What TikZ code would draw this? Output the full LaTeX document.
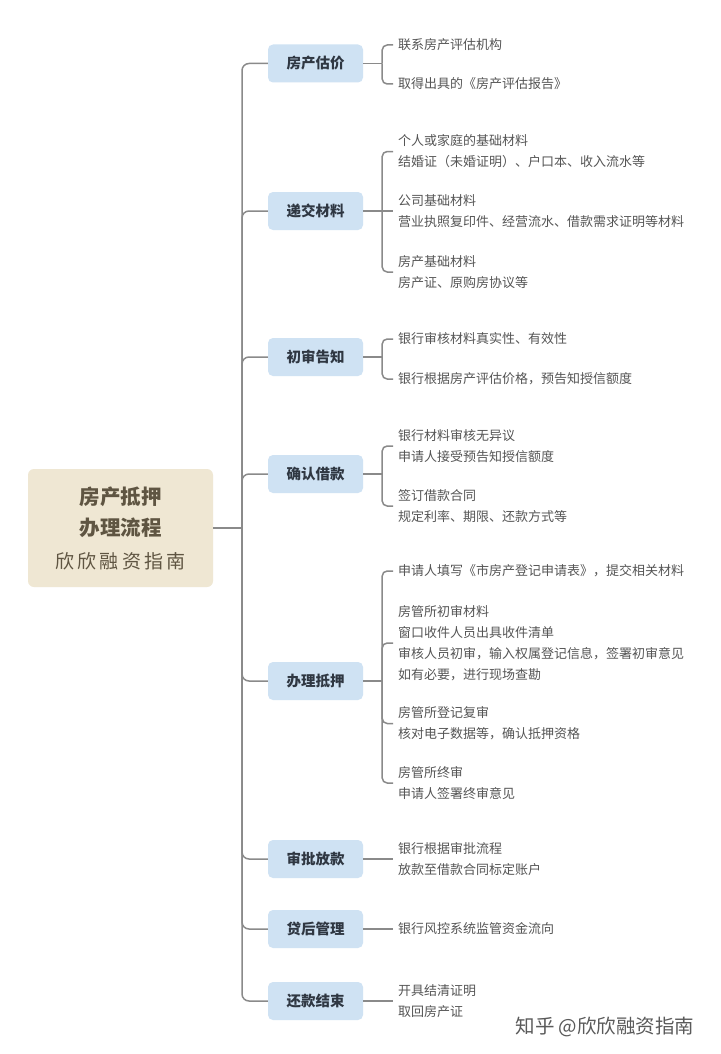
\documentclass[tikz,border=0pt]{standalone}
\usepackage{fontspec}
\setmainfont{Noto Sans CJK SC}
\usetikzlibrary{calc}
\definecolor{linec}{HTML}{8A8A8A}
\definecolor{catfill}{HTML}{CFE2F3}
\definecolor{cattext}{HTML}{2F3742}
\definecolor{rootfill}{HTML}{EFE7D3}
\definecolor{roottext}{HTML}{5F5542}
\definecolor{leaftext}{HTML}{555555}
\definecolor{marktext}{HTML}{5A5A5A}
\tikzset{
  conn/.style={draw=linec, line width=1.5pt},
  spinebend/.style={conn, rounded corners=7pt},
  bracketbend/.style={conn, rounded corners=5pt},
  cat/.style={fill=catfill, rounded corners=5pt, minimum width=95pt, minimum height=38pt,
    inner sep=0pt, text=cattext, font=\fontsize{14.5}{17}\selectfont\bfseries},
  leaf/.style={anchor=west, align=left, inner xsep=5pt, inner ysep=0pt, text=leaftext,
    font=\fontsize{13}{21}\selectfont},
  rootbox/.style={fill=rootfill, rounded corners=6pt, minimum width=185pt, minimum height=118pt,
    inner sep=0pt, align=center, text=roottext, font=\fontsize{20.5}{31}\selectfont},
  wmark/.style={text=marktext, font=\fontsize{19.5}{22}\selectfont}
}
\begin{document}
\begin{tikzpicture}[x=1pt,y=-1pt]
\useasboundingbox (0,0) rectangle (720,1054);
\fill[white] (0,0) rectangle (720,1054);

% root
\node[rootbox] (r) at (120.5,528) {\textbf{房产抵押}\\\textbf{办理流程}\\[2pt]{\fontsize{19}{31}\selectfont 欣\,欣\,融\,资\,指\,南}};
\coordinate (s) at (242,528);
\draw[conn] (r.east) -- (s);

% categories
\node[cat] (c1) at (315.5,63.5) {房产估价};
\node[cat] (c2) at (315.5,211) {递交材料};
\node[cat] (c3) at (315.5,357) {初审告知};
\node[cat] (c4) at (315.5,474) {确认借款};
\node[cat] (c5) at (315.5,681) {办理抵押};
\node[cat] (c6) at (315.5,859) {审批放款};
\node[cat] (c7) at (315.5,929) {贷后管理};
\node[cat] (c8) at (315.5,1001) {还款结束};

\foreach \c in {c1,c2,c3,c4,c5,c6,c7,c8}
  \draw[spinebend] (s) |- (\c.west);

% leaves of c1
\node[leaf] (l11) at (393,45) {联系房产评估机构};
\node[leaf] (l12) at (393,84) {取得出具的《房产评估报告》};
\coordinate (j1) at ([xshift=19pt]c1.east);
\draw[conn] (c1.east) -- (j1);
\draw[bracketbend] (j1) |- (l11.west);
\draw[bracketbend] (j1) |- (l12.west);

% leaves of c2
\node[leaf] (l21) at (393,151.5) {个人或家庭的基础材料\\结婚证（未婚证明）、户口本、收入流水等};
\node[leaf] (l22) at (393,211) {公司基础材料\\营业执照复印件、经营流水、借款需求证明等材料};
\node[leaf] (l23) at (393,272) {房产基础材料\\房产证、原购房协议等};
\coordinate (j2) at ([xshift=19pt]c2.east);
\draw[conn] (c2.east) -- (j2);
\draw[bracketbend] (j2) |- (l21.west);
\draw[conn] (j2) -- (l22.west);
\draw[bracketbend] (j2) |- (l23.west);

% leaves of c3
\node[leaf] (l31) at (393,339) {银行审核材料真实性、有效性};
\node[leaf] (l32) at (393,379) {银行根据房产评估价格，预告知授信额度};
\coordinate (j3) at ([xshift=19pt]c3.east);
\draw[conn] (c3.east) -- (j3);
\draw[bracketbend] (j3) |- (l31.west);
\draw[bracketbend] (j3) |- (l32.west);

% leaves of c4
\node[leaf] (l41) at (393,446) {银行材料审核无异议\\申请人接受预告知授信额度};
\node[leaf] (l42) at (393,506) {签订借款合同\\规定利率、期限、还款方式等};
\coordinate (j4) at ([xshift=19pt]c4.east);
\draw[conn] (c4.east) -- (j4);
\draw[bracketbend] (j4) |- (l41.west);
\draw[bracketbend] (j4) |- (l42.west);

% leaves of c5
\node[leaf] (l51) at (393,571) {申请人填写《市房产登记申请表》，提交相关材料};
\node[leaf] (l52) at (393,643) {房管所初审材料\\窗口收件人员出具收件清单\\审核人员初审，输入权属登记信息，签署初审意见\\如有必要，进行现场查勘};
\node[leaf] (l53) at (393,723.5) {房管所登记复审\\核对电子数据等，确认抵押资格};
\node[leaf] (l54) at (393,783) {房管所终审\\申请人签署终审意见};
\coordinate (j5) at ([xshift=19pt]c5.east);
\draw[conn] (c5.east) -- (j5);
\draw[bracketbend] (j5) |- (l51.west);
\draw[bracketbend] (j5) |- (l52.west);
\draw[bracketbend] (j5) |- (l53.west);
\draw[bracketbend] (j5) |- (l54.west);

% leaves of c6, c7, c8
\node[leaf] (l61) at (393,859) {银行根据审批流程\\放款至借款合同标定账户};
\draw[conn] (c6.east) -- (l61.west);
\node[leaf] (l71) at (393,929) {银行风控系统监管资金流向};
\draw[conn] (c7.east) -- (l71.west);
\node[leaf] (l81) at (393,1001) {开具结清证明\\取回房产证};
\draw[conn] (c8.east) -- (l81.west);

% watermark
\node[wmark] (wm) at (605,1027) {知乎 @欣欣融资指南};
\end{tikzpicture}
\end{document}
